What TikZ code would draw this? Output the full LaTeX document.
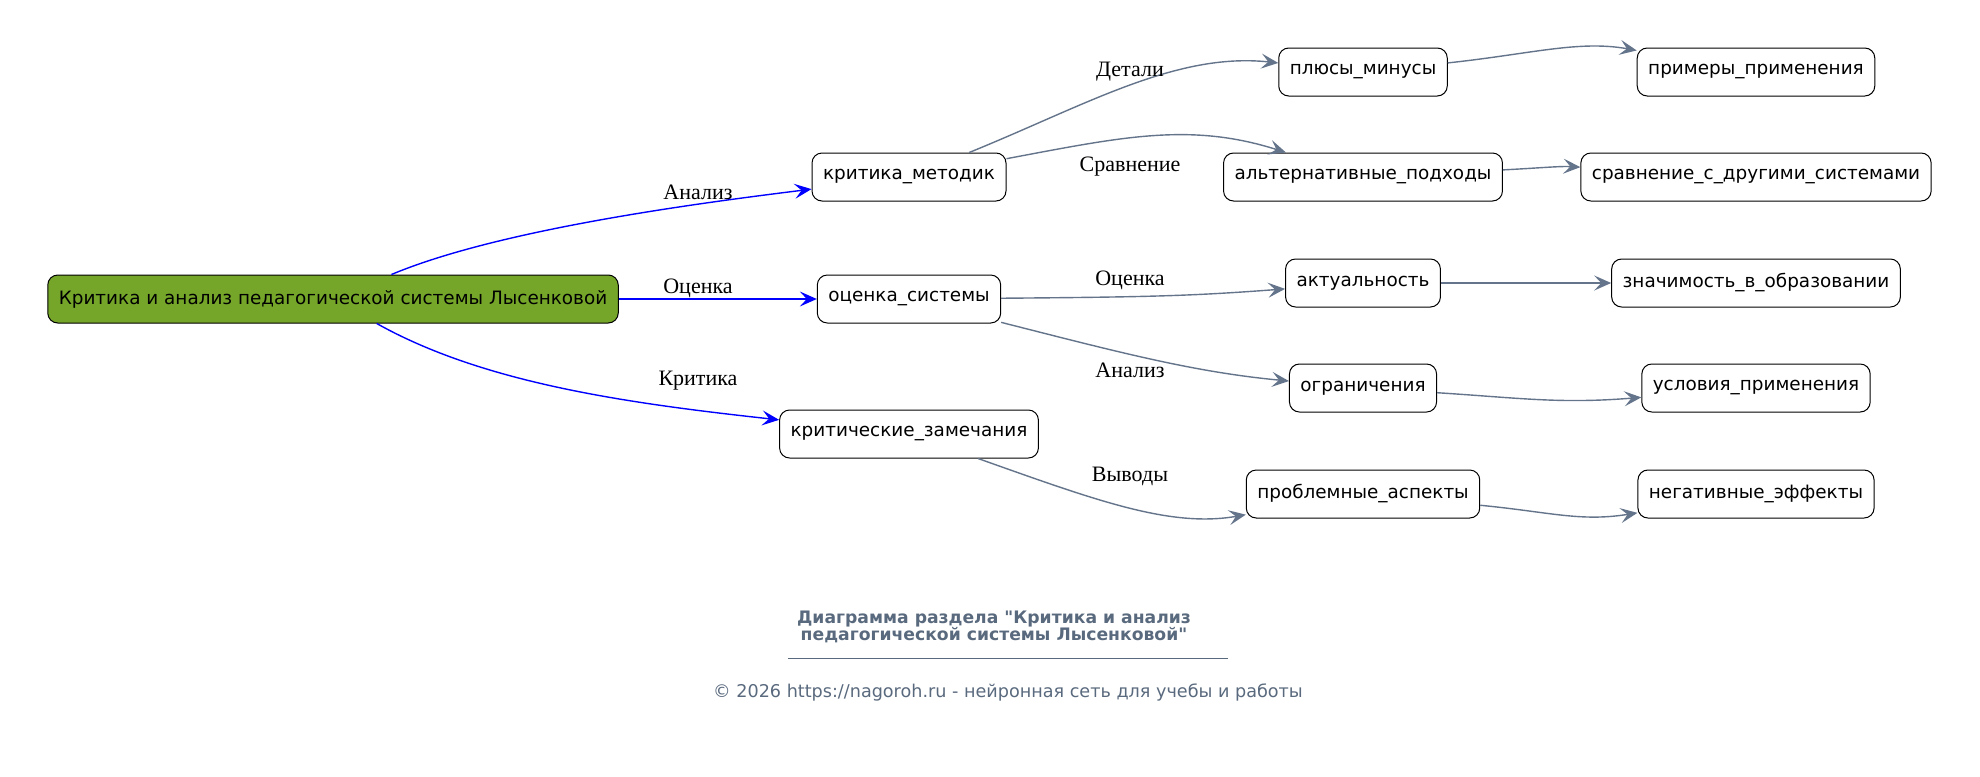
\documentclass[tikz,border=0pt]{standalone}
\usepackage{fontspec}
\setmainfont{Liberation Serif}
\newfontfamily\dvsans{DejaVu Sans}
\usetikzlibrary{arrows.meta, positioning}

\definecolor{rootgreen}{RGB}{117,166,42}
\definecolor{slateedge}{RGB}{100,116,139}
\definecolor{footgray}{RGB}{90,106,126}

\begin{document}
\begin{tikzpicture}[
  x=0.5pt, y=-0.5pt,
  box/.style={rectangle, draw, rounded corners=5pt, minimum height=24pt,
    inner xsep=5.5pt, inner ysep=0pt, line width=0.5pt, fill=white,
    font=\dvsans\fontsize{9.2}{11}\selectfont},
  lbl/.style={font=\fontsize{11}{13}\selectfont, inner sep=0pt},
  mainedge/.style={->, blue, line width=0.7pt},
  subedge/.style={->, slateedge, line width=0.7pt},
  foot/.style={font=\dvsans\fontsize{8.8}{10}\selectfont, text=footgray, align=center, inner sep=0pt},
  >={Stealth[length=8.5pt, width=7.5pt, inset=3.5pt]}
]
\fill[white] (0,0) rectangle (1980,776);

% root and first level
\node[box, fill=rootgreen] (root) at (333,299) {Критика и анализ педагогической системы Лысенковой};
\node[box] (metod) at (909,177) {критика\_методик};
\node[box] (ocen)  at (909,299) {оценка\_системы};
\node[box] (zamech) at (909,434) {критические\_замечания};

% second level
\node[box] (plusy) at (1363,72)  {плюсы\_минусы};
\node[box] (alter) at (1363,177) {альтернативные\_подходы};
\node[box] (aktual) at (1363,283) {актуальность};
\node[box] (ogran) at (1363,388) {ограничения};
\node[box] (probl) at (1363,494) {проблемные\_аспекты};

% third level
\node[box] (primery) at (1756,72)  {примеры\_применения};
\node[box] (sravn)   at (1756,177) {сравнение\_с\_другими\_системами};
\node[box] (znach)   at (1756,283) {значимость\_в\_образовании};
\node[box] (uslov)   at (1756,388) {условия\_применения};
\node[box] (negat)   at (1756,494) {негативные\_эффекты};

\draw[mainedge] (root) .. controls (500,229) and (700,203) .. (metod);
\draw[mainedge] (root) -- (ocen);
\draw[mainedge] (root) .. controls (483,383) and (625,403) .. (zamech);
\node[lbl] (l1) at (698,192) {Анализ};
\node[lbl] (l2) at (698,288) {Оценка};
\node[lbl] (l3) at (698,381) {Критика};

\draw[subedge] (metod) .. controls (1086,105) and (1176,52) .. (plusy);
\draw[subedge] (metod) .. controls (1122,137) and (1190,122) .. (alter);
\draw[subedge] (ocen) .. controls (1150,297) and (1191,296) .. (aktual);
\draw[subedge] (ocen) .. controls (1118,352) and (1193,372) .. (ogran);
\draw[subedge] (zamech) .. controls (1095,500) and (1170,528) .. (probl);
\node[lbl] (l4) at (1130,72)  {Детали};
\node[lbl] (l5) at (1130,167) {Сравнение};
\node[lbl] (l6) at (1130,280) {Оценка};
\node[lbl] (l7) at (1130,370) {Анализ};
\node[lbl] (l8) at (1130,476) {Выводы};

\draw[subedge] (plusy) .. controls (1531,54) and (1579,40) .. (primery);
\draw[subedge] (alter) .. controls (1540,168) and (1560,166) .. (sravn);
\draw[subedge] (aktual) -- (znach);
\draw[subedge] (ogran) .. controls (1520,398) and (1560,404) .. (uslov);
\draw[subedge] (probl) .. controls (1550,512) and (1580,522) .. (negat);

% footer
\node[foot, font=\dvsans\bfseries\fontsize{8.6}{8.5}\selectfont] (title) at (994,627)
  {Диаграмма раздела "Критика и анализ\\педагогической системы Лысенковой"};
\coordinate (rulel) at (788,658);
\coordinate (ruler) at (1228,658);
\draw[footgray, line width=0.5pt] (rulel) -- (ruler);
\node[foot] (copy) at (1008,692) {© 2026 https://nagoroh.ru - нейронная сеть для учебы и работы};
\end{tikzpicture}
\end{document}
